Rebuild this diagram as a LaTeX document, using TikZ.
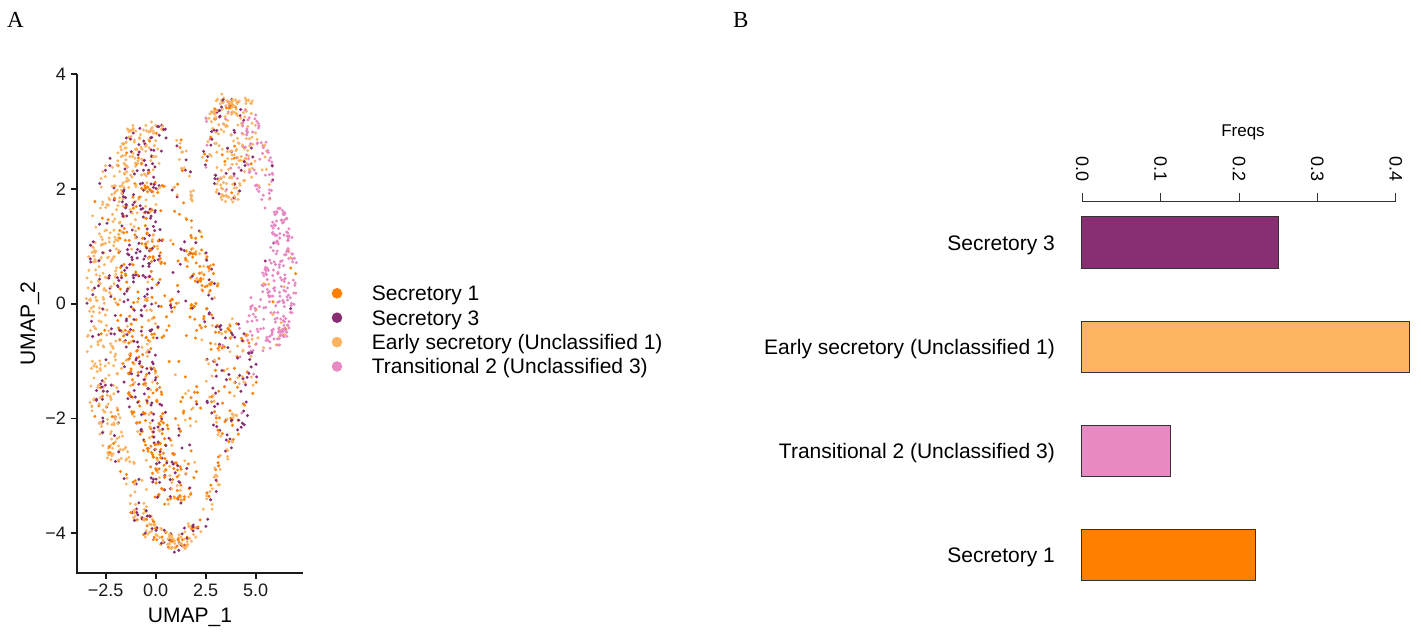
\documentclass[tikz,border=0pt]{standalone}
\usepackage{fontspec}
\setmainfont{Liberation Sans}
\newfontfamily\panelfont{Liberation Serif}
\definecolor{sOne}{HTML}{FF7F00}
\definecolor{sThree}{HTML}{882E72}
\definecolor{sEarly}{HTML}{FBB462}
\definecolor{sTrans}{HTML}{E78AC3}
\colorlet{pt1}{sOne}
\colorlet{pt2}{sThree}
\colorlet{pt3}{sEarly}
\colorlet{pt4}{sTrans}
\definecolor{axcol}{HTML}{1A1A1A}
\def\ctaper{0}
% cloud of points along a segment: x1 y1 x2 y2 halfwidth n p1 p2 p3 (cumulative probabilities)
\newcommand{\cloud}[9]{%
  \pgfmathsetmacro{\cdx}{#3-#1}\pgfmathsetmacro{\cdy}{#4-#2}%
  \pgfmathsetmacro{\clen}{max(veclen(\cdx,\cdy),0.001)}%
  \pgfmathsetmacro{\cnx}{-\cdy/\clen}\pgfmathsetmacro{\cny}{\cdx/\clen}%
  \pgfmathsetmacro{\ctx}{\cdx/\clen}\pgfmathsetmacro{\cty}{\cdy/\clen}%
  \foreach \k in {1,...,#6}{%
    \pgfmathsetmacro{\myt}{rnd}%
    \pgfmathsetmacro{\myc}{rnd}%
    \pgfmathsetmacro{\myo}{rand*#5*(1-\ctaper*0.75*(1-sin(180*\myt)))}%
    \pgfmathsetmacro{\mya}{rand*5}%
    \pgfmathsetmacro{\myx}{#1+\cdx*\myt+\cnx*\myo+\ctx*\mya}%
    \pgfmathsetmacro{\myy}{#2+\cdy*\myt+\cny*\myo+\cty*\mya}%
    \pgfmathtruncatemacro{\myk}{\myc<#7 ? 1 : (\myc<#8 ? 2 : (\myc<#9 ? 3 : 4))}%
    \fill[pt\myk] (\myx,\myy) circle (1.65);
  }}
\tikzset{
  axisA/.style={line width=1.8pt, draw=axcol},
  tickA/.style={font=\fontsize{18}{20}\selectfont, inner sep=0pt, text=axcol},
  titleA/.style={font=\fontsize{21}{24}\selectfont, inner sep=0pt},
  legdot/.style={circle, inner sep=0pt, minimum size=10.6pt},
  legtxt/.style={font=\fontsize{21}{24}\selectfont, inner sep=0pt, anchor=base west},
  barbox/.style={draw=black!80, line width=1pt},
  axisB/.style={line width=1pt, draw=black!80},
  tickB/.style={font=\fontsize{18}{20}\selectfont, inner sep=0pt, rotate=-90, anchor=east},
  barlbl/.style={font=\fontsize{21}{24}\selectfont, inner sep=0pt, anchor=base east},
  panel/.style={font=\panelfont\fontsize{23}{26}\selectfont, inner sep=0pt, anchor=base west}
}
\begin{document}
\begin{tikzpicture}[x=1pt,y=-1pt]
\useasboundingbox (0,0) rectangle (1421,635);
\pgfmathsetseed{7301}
% ---------------- Panel A: scatter ----------------
% outer light band (left edge)
\cloud{145}{128}{120}{165}{11}{45}{0.08}{0.25}{1}
\cloud{120}{165}{106}{215}{15}{60}{0.08}{0.25}{1}
\cloud{106}{215}{101}{280}{15}{75}{0.08}{0.25}{1}
\cloud{101}{280}{101}{350}{15}{75}{0.08}{0.25}{1}
\cloud{101}{350}{106}{420}{15}{75}{0.08}{0.25}{1}
\cloud{106}{420}{120}{455}{14}{50}{0.08}{0.25}{1}
\cloud{120}{455}{138}{490}{10}{25}{0.12}{0.32}{1}
\def\ctaper{1}
\cloud{128}{130}{168}{126}{8}{30}{0.08}{0.4}{1}
\def\ctaper{0}
% inner mixed band
\cloud{158}{132}{142}{180}{12}{50}{0.2}{0.62}{1}
\cloud{142}{180}{136}{240}{18}{85}{0.3}{0.72}{1}
\cloud{136}{240}{135}{310}{18}{100}{0.33}{0.75}{1}
\cloud{135}{310}{139}{370}{18}{90}{0.35}{0.75}{1}
\cloud{139}{370}{150}{420}{18}{80}{0.45}{0.78}{1}
\cloud{155}{215}{160}{335}{8}{45}{0.6}{0.85}{1}
\cloud{145}{188}{175}{186}{4}{16}{0.4}{0.72}{1}
\cloud{140}{215}{160}{213}{4}{12}{0.4}{0.72}{1}
% lower orange-dominant band
\cloud{150}{420}{163}{470}{16}{85}{0.55}{0.85}{1}
\cloud{163}{470}{172}{505}{15}{60}{0.5}{0.8}{1}
% bottom cup
\cloud{135}{505}{152}{532}{9}{50}{0.18}{0.45}{1}
\cloud{152}{532}{178}{546}{8}{50}{0.18}{0.45}{1}
\cloud{178}{546}{200}{522}{8}{45}{0.18}{0.45}{1}
% sparse middle
\def\ctaper{1}
\cloud{185}{175}{190}{425}{26}{70}{0.55}{0.75}{1}
\cloud{178}{135}{195}{200}{9}{22}{0.1}{0.2}{1}
\cloud{188}{240}{214}{295}{15}{65}{0.55}{0.75}{1}
\cloud{165}{300}{225}{330}{12}{30}{0.6}{0.8}{1}
\cloud{178}{420}{192}{500}{10}{25}{0.45}{0.75}{1}
% top right lobe
\cloud{226}{98}{230}{202}{26}{200}{0.06}{0.24}{0.92}
\cloud{206}{118}{252}{100}{9}{50}{0.08}{0.2}{0.97}
\cloud{248}{110}{268}{205}{14}{85}{0}{0.04}{0.35}
% right pink band
\cloud{280}{205}{282}{340}{16}{175}{0.02}{0.05}{0.1}
\cloud{265}{270}{250}{350}{11}{55}{0.02}{0.05}{0.1}
\cloud{286}{325}{262}{352}{8}{25}{0.02}{0.05}{0.1}
% right middle cluster
\cloud{232}{322}{228}{440}{28}{150}{0.35}{0.68}{0.97}
\def\ctaper{0}
% lower right arc
\cloud{230}{437}{205}{515}{5}{40}{0.15}{0.3}{1}
% axes
\coordinate (yt) at (77,74.3);
\coordinate (org) at (77,572.7);
\coordinate (xr) at (303,572.7);
\draw[axisA] (yt) -- (org) -- (xr);
\foreach \v/\lab [count=\n] in {4/4,2/2,0/0,-2/−2,-4/−4}{
  \pgfmathsetmacro{\yy}{303.7-57.35*\v}
  \draw[axisA] (71,\yy) -- (77,\yy);
  \node[tickA, anchor=east] (ylab\n) at (66,\yy) {\lab};
}
\foreach \u/\lab [count=\n] in {-2.5/−2.5,0/0.0,2.5/2.5,5/5.0}{
  \pgfmathsetmacro{\xx}{155.7+20*\u}
  \draw[axisA] (\xx,572.7) -- (\xx,579);
  \node[tickA, anchor=north] (xlab\n) at (\xx,583.5) {\lab};
}
\node[titleA, anchor=base] (xtitle) at (190,622) {UMAP\_1};
\node[titleA, anchor=base, rotate=90] (ytitle) at (35,323.5) {UMAP\_2};
% legend
\node[legdot, fill=sOne] (d1) at (337,293.3) {};
\node[legdot, fill=sThree] (d2) at (337,317.7) {};
\node[legdot, fill=sEarly] (d3) at (337,342.1) {};
\node[legdot, fill=sTrans] (d4) at (337,366.5) {};
\node[legtxt] (l1) at (371.7,300.7) {Secretory 1};
\node[legtxt] (l2) at (371.7,325.1) {Secretory 3};
\node[legtxt] (l3) at (371.7,349.5) {Early secretory (Unclassified 1)};
\node[legtxt] (l4) at (371.7,373.9) {Transitional 2 (Unclassified 3)};
% panel labels
\node[panel] (pA) at (7,27) {A};
\node[panel] (pB) at (733,27) {B};
% ---------------- Panel B: bars ----------------
\draw[axisB] (1082.3,201.5) -- (1395.7,201.5);
\foreach \f/\lab [count=\n] in {0/0.0,1/0.1,2/0.2,3/0.3,4/0.4}{
  \pgfmathsetmacro{\xx}{1082.3+78.35*\f}
  \draw[axisB] (\xx,192.7) -- (\xx,201.5);
  \node[tickB] (blab\n) at (\xx,182) {\lab};
}
\node[font=\fontsize{17}{20}\selectfont, inner sep=0pt, anchor=base] (freqs) at (1243,136) {Freqs};
\draw[barbox, fill=sThree] (1081.7,216.7) rectangle (1278,268.7);
\draw[barbox, fill=sEarly] (1081.7,321) rectangle (1409.3,372.7);
\draw[barbox, fill=sTrans] (1081.7,425) rectangle (1170.3,476.7);
\draw[barbox, fill=sOne] (1081.7,529) rectangle (1255.3,580.7);
\node[barlbl] (b1) at (1055,250.2) {Secretory 3};
\node[barlbl] (b2) at (1055,354.3) {Early secretory (Unclassified 1)};
\node[barlbl] (b3) at (1055,458.3) {Transitional 2 (Unclassified 3)};
\node[barlbl] (b4) at (1055,562.3) {Secretory 1};
\end{tikzpicture}
\end{document}
